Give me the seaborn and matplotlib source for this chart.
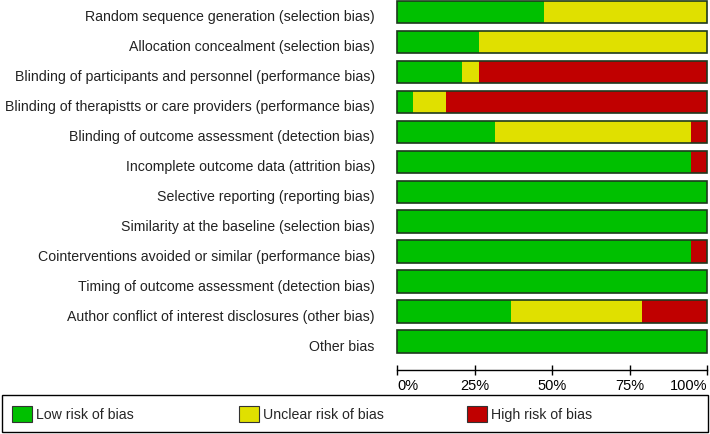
import matplotlib
matplotlib.use("Agg")
import matplotlib.pyplot as plt
import matplotlib.transforms as mtransforms
import seaborn as sns
import pandas as pd
from matplotlib.patches import Patch, Rectangle

# risk-of-bias domains (top to bottom)
domains = [
    "Random sequence generation (selection bias)",
    "Allocation concealment (selection bias)",
    "Blinding of participants and personnel (performance bias)",
    "Blinding of therapistts or care providers (performance bias)",
    "Blinding of outcome assessment (detection bias)",
    "Incomplete outcome data (attrition bias)",
    "Selective reporting (reporting bias)",
    "Similarity at the baseline (selection bias)",
    "Cointerventions avoided or similar (performance bias)",
    "Timing of outcome assessment (detection bias)",
    "Author conflict of interest disclosures (other bias)",
    "Other bias",
]
# percentages of studies
low = [47.4, 26.3, 21.1, 5.3, 31.6, 94.7, 100, 100, 94.7, 100, 36.8, 100]
unclear = [52.6, 73.7, 5.3, 10.5, 63.2, 0, 0, 0, 0, 0, 42.1, 0]
high = [0, 0, 73.7, 84.2, 5.3, 5.3, 0, 0, 5.3, 0, 21.1, 0]

legend_labels = ["Low risk of bias", "Unclear risk of bias", "High risk of bias"]
colors = ["#00c000", "#e0e000", "#c00000"]

df = pd.DataFrame({"domain": domains, "low": low, "unclear": unclear, "high": high})
df["cum_unclear"] = df["low"] + df["unclear"]
df["cum_high"] = df["cum_unclear"] + df["high"]

sns.set_style("white")
plt.rcParams["font.family"] = ["Liberation Sans", "DejaVu Sans"]
fs = 10.2

fig = plt.figure(figsize=(7.1, 4.34), dpi=100)
ax = fig.add_axes([397 / 710, 1 - 370 / 434, 310 / 710, 370 / 434])

# stacked bars drawn back to front
sns.barplot(data=df, x="cum_high", y="domain", color=colors[2], width=0.75,
            saturation=1, linewidth=0, ax=ax)
sns.barplot(data=df, x="cum_unclear", y="domain", color=colors[1], width=0.75,
            saturation=1, linewidth=0, ax=ax)
sns.barplot(data=df, x="low", y="domain", color=colors[0], width=0.75,
            saturation=1, linewidth=0, ax=ax)
# outline around each full bar
sns.barplot(data=df, x="cum_high", y="domain", fill=False, edgecolor="#1e3a1e",
            width=0.75, linewidth=1.2, ax=ax)
for p in ax.patches:
    p.set_clip_on(False)

ax.set_xlim(0, 100)
ax.set_ylim(11.95, -0.40)
ax.set_xlabel("")
ax.set_ylabel("")
ax.set_xticks([0, 25, 50, 75, 100])
ax.set_xticklabels(["0%", "25%", "50%", "75%", "100%"], fontsize=10.5)
xt = ax.get_xticklabels()
xt[0].set_ha("left")
xt[-1].set_ha("right")
ax.tick_params(axis="x", direction="inout", length=7, width=1, bottom=True,
               pad=3, colors="black")
ax.tick_params(axis="y", length=0, pad=16, labelsize=fs)
shift = mtransforms.ScaledTranslation(0, -4 / 100, fig.dpi_scale_trans)
for lab in ax.get_yticklabels():
    lab.set_color("#222222")
    lab.set_transform(lab.get_transform() + shift)
for s in ["left", "right", "top"]:
    ax.spines[s].set_visible(False)
ax.spines["bottom"].set_color("black")
ax.spines["bottom"].set_linewidth(1)
ax.spines["bottom"].set_clip_on(False)

# legend box at the bottom
fig.patches.append(Rectangle((2 / 710, 2 / 434), 706 / 710, 37 / 434,
                             transform=fig.transFigure, fill=False,
                             edgecolor="black", linewidth=1))
for i, x0 in enumerate([12, 239, 467]):
    h = Patch(facecolor=colors[i], edgecolor="#333333", linewidth=0.8)
    fig.legend([h], [legend_labels[i]], loc="center left",
               bbox_to_anchor=(x0 / 710, 20 / 434), frameon=False,
               fontsize=fs, handlelength=1.4, handleheight=1.4,
               handletextpad=0.3, borderpad=0, borderaxespad=0)

fig.savefig("out.png", dpi=100)
